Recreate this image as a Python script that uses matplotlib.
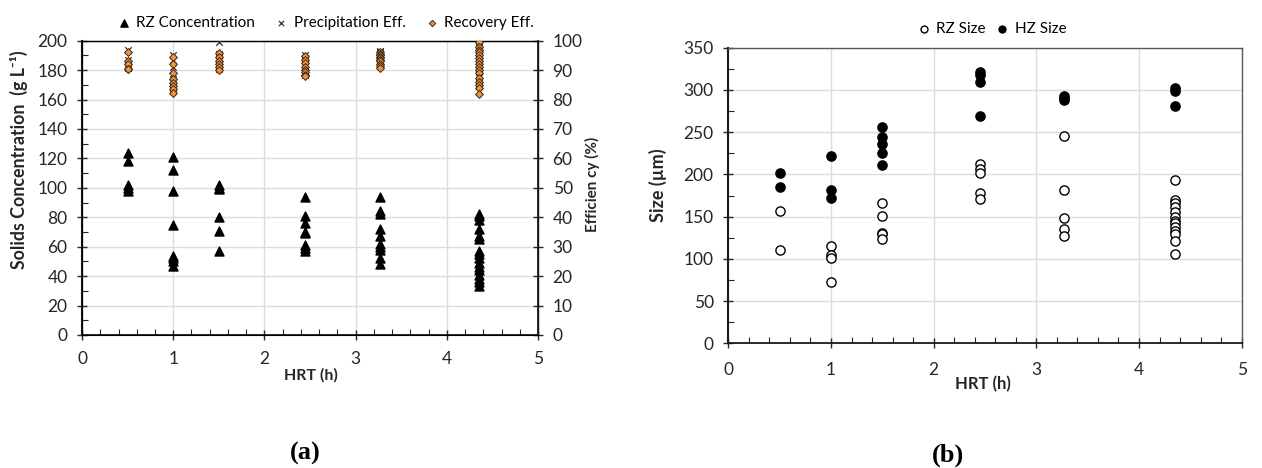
import numpy as np
import matplotlib
matplotlib.use("Agg")
import matplotlib.pyplot as plt
from matplotlib.ticker import MultipleLocator

plt.rcParams['font.family'] = ['Lato', 'DejaVu Sans']

# (a) RZ solids concentration (g/L) per HRT
HRT_A = [0.5, 1.0, 1.5, 2.45, 3.27, 4.35]
RZ_CONC = [
    [124, 118, 102, 100, 98],
    [121, 112, 98, 75, 54, 52, 50, 47],
    [102, 100, 99, 80, 71, 57],
    [94, 81, 76, 70, 69, 61, 59, 57],
    [94, 84, 82, 72, 67, 62, 60, 58, 52, 48],
    [82, 81, 78, 72, 67, 65, 57, 55, 52, 49, 46, 44, 41, 38, 36, 33],
]
PRECIP_EFF = [
    [96.8, 93.5, 92.0, 91.0, 90.8],
    [95.2, 93.5, 91.0, 88.5, 87.0, 86.0, 85.0, 84.0],
    [99.5, 95.5, 94.0, 93.0, 91.5, 90.5],
    [95.0, 94.0, 93.0, 91.5, 90.5, 90.0, 89.0, 88.5],
    [96.5, 96.2, 95.8, 95.5, 95.0, 94.5, 94.0, 93.0, 92.0, 91.5],
    [99.8, 98.5, 97.5, 96.5, 95.5, 94.5, 93.5, 92.5, 91.5, 90.5, 89.5, 88.0, 86.5, 85.5, 84.5, 83.0],
]
RECOV_EFF = [
    [96.0, 93.0, 92.0, 90.5, 90.4],
    [94.5, 92.0, 89.0, 87.0, 85.5, 84.5, 83.5, 82.2],
    [95.8, 94.5, 93.0, 92.0, 91.0, 90.2],
    [94.8, 93.5, 92.5, 91.0, 90.0, 89.5, 88.5, 88.0],
    [96.0, 95.5, 95.0, 94.5, 94.0, 93.5, 93.0, 92.0, 91.5, 90.8],
    [99.5, 98.0, 97.0, 96.0, 95.0, 94.0, 93.0, 92.0, 91.0, 90.0, 89.0, 87.5, 86.0, 85.0, 84.0, 82.0],
]

# (b) crystal size (um) per HRT
HRT_B = [0.5, 1.0, 1.5, 2.45, 3.27, 4.35]
RZ_SIZE = [
    [157, 111],
    [115, 105, 101, 72],
    [166, 151, 131, 129, 123],
    [212, 206, 202, 178, 171],
    [245, 182, 148, 135, 127],
    [193, 170, 166, 161, 155, 150, 145, 143, 138, 133, 129, 121, 106],
]
HZ_SIZE = [
    [202, 185],
    [222, 181, 172],
    [256, 244, 236, 225, 211],
    [321, 318, 310, 269],
    [293, 290, 288],
    [302, 299, 281],
]

TXT = '#262626'
GRID = '#dcdcdc'
ORANGE = '#F4923A'
TICK_FS = 12.5


def flat(xs, groups):
    x = np.concatenate([[xv] * len(g) for xv, g in zip(xs, groups)])
    y = np.concatenate([np.asarray(g, float) for g in groups])
    return x, y


def style_axis(ax, xpad):
    ax.set_xlim(0, 5)
    ax.xaxis.set_major_locator(MultipleLocator(1))
    ax.xaxis.set_minor_locator(MultipleLocator(0.2))
    ax.grid(True, which='major', color=GRID, lw=1.0, zorder=0)
    ax.set_axisbelow(True)
    ax.tick_params(which='major', direction='inout', length=7, width=1.0,
                   labelsize=TICK_FS, colors=TXT, labelcolor=TXT)
    ax.tick_params(axis='y', which='major', pad=7)
    ax.tick_params(axis='x', which='major', pad=xpad)
    ax.tick_params(which='minor', direction='in', length=4, width=0.8, colors=TXT)
    for s in ax.spines.values():
        s.set_color('#1a1a1a')
        s.set_linewidth(1.0)
    ax.spines['left'].set_linewidth(1.5)
    ax.spines['bottom'].set_linewidth(1.3)


fig = plt.figure(figsize=(12.62, 4.68), dpi=100)

# ---- panel (a)
ax1 = fig.add_axes([0.065, 0.2842, 0.3613, 0.6288])
style_axis(ax1, xpad=8)
ax1.set_ylim(0, 200)
ax1.yaxis.set_major_locator(MultipleLocator(20))
ax1.yaxis.set_minor_locator(MultipleLocator(10))
ax2 = ax1.twinx()
ax2.set_ylim(0, 100)
ax2.yaxis.set_major_locator(MultipleLocator(10))
ax2.tick_params(which='major', direction='inout', length=7, width=1.0, pad=7,
                labelsize=TICK_FS, colors=TXT, labelcolor=TXT)
ax2.spines['right'].set_linewidth(1.3)
ax2.spines['right'].set_color('#1a1a1a')

x, y = flat(HRT_A, RZ_CONC)
h1 = ax1.scatter(x, y, marker='^', s=42, color='black', zorder=3, label='RZ Concentration')
x, y = flat(HRT_A, PRECIP_EFF)
h2 = ax2.scatter(x, y, marker='x', s=22, color='#333333', linewidths=0.9, zorder=3,
                 label='Precipitation Eff.')
x, y = flat(HRT_A, RECOV_EFF)
h3 = ax2.scatter(x, y, marker='D', s=16, facecolor=ORANGE, edgecolor='#3a2a1a',
                 linewidths=0.7, zorder=4, label='Recovery Eff.')

ax1.set_xlabel('HRT (h)', fontsize=11.5, fontweight='bold', color=TXT)
ax1.xaxis.set_label_coords(0.502, -0.112)
ax1.set_ylabel('Solids Concentration  (g L\u207b\u00b9)', fontsize=12.8,
               fontweight='bold', color=TXT)
ax1.yaxis.set_label_coords(-0.118, 0.595)
ax2.set_ylabel('Efficien cy (%)', fontsize=11, fontweight='bold', color=TXT)
ax2.yaxis.set_label_coords(1.103, 0.513)
ax1.legend(handles=[h1, h2, h3], loc='lower center', bbox_to_anchor=(0.533, 1.005),
           ncol=3, frameon=False, fontsize=11, handletextpad=0.3, handlelength=1.0,
           columnspacing=1.2, markerscale=0.8, borderaxespad=0.2)

# ---- panel (b)
ax3 = fig.add_axes([0.5771, 0.2665, 0.4068, 0.6315])
style_axis(ax3, xpad=10)
ax3.set_ylim(0, 350)
ax3.yaxis.set_major_locator(MultipleLocator(50))
ax3.yaxis.set_minor_locator(MultipleLocator(25))
ax3.spines['top'].set_color('#595959')
ax3.spines['right'].set_color('#595959')

x, y = flat(HRT_B, RZ_SIZE)
g1 = ax3.scatter(x, y, marker='o', s=44, facecolor='white', edgecolor='black',
                 linewidths=1.0, zorder=3, label='RZ Size')
x, y = flat(HRT_B, HZ_SIZE)
g2 = ax3.scatter(x, y, marker='o', s=44, facecolor='black', edgecolor='black',
                 linewidths=1.0, zorder=3, label='HZ Size')
ax3.set_xlabel('HRT (h)', fontsize=12, fontweight='bold', color=TXT)
ax3.xaxis.set_label_coords(0.496, -0.111)
ax3.set_ylabel('Size (\u00b5m)', fontsize=13, fontweight='bold', color=TXT)
ax3.yaxis.set_label_coords(-0.119, 0.535)
ax3.legend(handles=[g1, g2], loc='lower center', bbox_to_anchor=(0.512, 1.01),
           ncol=2, frameon=False, fontsize=11, handletextpad=0.3, handlelength=1.0,
           columnspacing=0.6, markerscale=0.75, borderaxespad=0.2)

fig.text(0.2417, 0.031, '(a)', ha='center', va='center', fontsize=19,
         fontweight='bold', family=['Liberation Serif', 'DejaVu Serif'])
fig.text(0.7512, 0.028, '(b)', ha='center', va='center', fontsize=19,
         fontweight='bold', family=['Liberation Serif', 'DejaVu Serif'])

fig.savefig('out.png', dpi=100)
